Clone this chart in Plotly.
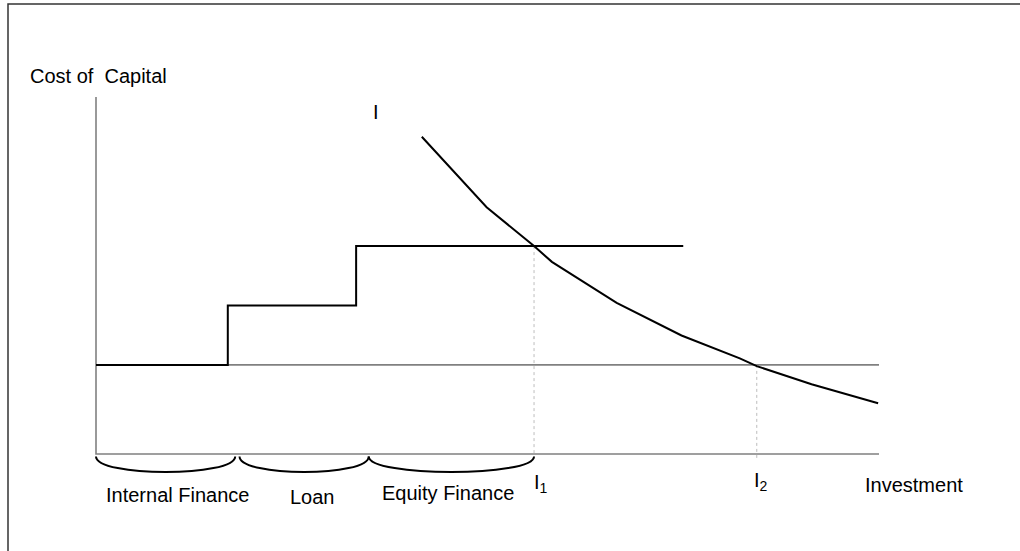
import plotly.graph_objects as go

# ---------------- data (conceptual units) ----------------
source_names = ["Internal Finance", "Loan", "Equity Finance"]
source_start = [0.0, 3.03, 5.98]
source_end = [3.03, 5.98, 13.5]
source_cost = [3.0, 5.0, 7.0]

brace_start = [0.0, 3.3, 6.27]
brace_end = [3.2, 6.27, 10.07]

mec_x = [7.49, 8.98, 10.07, 10.48, 11.97, 13.46, 14.8, 15.19, 16.45, 17.98]
mec_y = [10.68, 8.31, 7.0, 6.47, 5.09, 3.99, 3.22, 2.96, 2.35, 1.71]

ref_level = 3.0          # gray reference cost line
x_axis_end = 18.0
y_axis_end = 12.02

I1_x, I1_y = 10.07, 7.0
I2_x, I2_y = 15.19, 3.0

# ---------------- layout geometry ----------------
W, H = 1020, 551
X0_PX, Y0_PX = 96.0, 454.0       # origin in pixels
PX_X, PX_Y = 43.5, 29.7          # pixels per unit
x_range = [-X0_PX / PX_X, (W - X0_PX) / PX_X]
y_range = [(Y0_PX - H) / PX_Y, Y0_PX / PX_Y]

BLACK = "#000000"
GRAY = "#808080"

fig = go.Figure()

# axes (gray)
fig.add_trace(go.Scatter(x=[0, 0, x_axis_end], y=[y_axis_end, 0, 0], mode="lines",
                         line=dict(color=GRAY, width=1.6), hoverinfo="skip"))
# gray reference line
fig.add_trace(go.Scatter(x=[0, x_axis_end], y=[ref_level, ref_level], mode="lines",
                         line=dict(color=GRAY, width=1.6), hoverinfo="skip"))

# dotted drop lines
fig.add_trace(go.Scatter(x=[I1_x, I1_x], y=[I1_y, 0], mode="lines",
                         line=dict(color="#bdbdbd", width=1, dash="dot"), hoverinfo="skip"))
fig.add_trace(go.Scatter(x=[I2_x, I2_x], y=[I2_y, -0.2], mode="lines",
                         line=dict(color="#bdbdbd", width=1, dash="dot"), hoverinfo="skip"))

# step supply curve
sx, sy = [], []
for a, b, c in zip(source_start, source_end, source_cost):
    sx += [a, b]
    sy += [c, c]
fig.add_trace(go.Scatter(x=sx, y=sy, mode="lines",
                         line=dict(color=BLACK, width=2), hoverinfo="skip"))

# demand curve
fig.add_trace(go.Scatter(x=mec_x, y=mec_y, mode="lines",
                         line=dict(color=BLACK, width=2), hoverinfo="skip"))

# braces
shapes = []
top, ctrl = -0.08, -0.78
for a, b in zip(brace_start, brace_end):
    shapes.append(dict(type="path", xref="x", yref="y",
                       path=f"M {a},{top} C {a},{ctrl} {b},{ctrl} {b},{top}",
                       line=dict(color=BLACK, width=2)))

# outer frame: only left and top edges are visible in the picture
fx0, fy1 = 8 / W, 1 - 4 / H
shapes.append(dict(type="path", xref="paper", yref="paper",
                   path=f"M {fx0},-0.05 L {fx0},{fy1} L 1.05,{fy1}",
                   line=dict(color="#333333", width=1.5)))

FONT = dict(family="Liberation Sans, Arial, sans-serif", size=20, color=BLACK)


def ann(text, x, y, anchor="left"):
    return dict(text=text, x=x, y=y, xref="x", yref="y", showarrow=False,
                xanchor=anchor, yanchor="middle", font=FONT)


label_x = [0.18, 4.41, 6.53]
label_y = [-1.38, -1.45, -1.31]
annotations = [ann(n, lx, ly) for n, lx, ly in zip(source_names, label_x, label_y)]
annotations += [
    ann("Cost of  Capital", -1.563, 12.73),
    ann("I", 6.32, 11.52),
    ann("I<sub>1</sub>", 10.02, -0.98),
    ann("I<sub>2</sub>", 15.08, -0.93),
    ann("Investment", 17.63, -1.04),
]

fig.update_layout(
    width=W, height=H,
    margin=dict(l=0, r=0, t=0, b=0),
    paper_bgcolor="white", plot_bgcolor="white",
    showlegend=False,
    xaxis=dict(range=x_range, visible=False, fixedrange=True),
    yaxis=dict(range=y_range, visible=False, fixedrange=True),
    shapes=shapes,
    annotations=annotations,
)

fig.write_html("out.html", post_script="document.body.style.margin='0';",
               config={"displayModeBar": False})
